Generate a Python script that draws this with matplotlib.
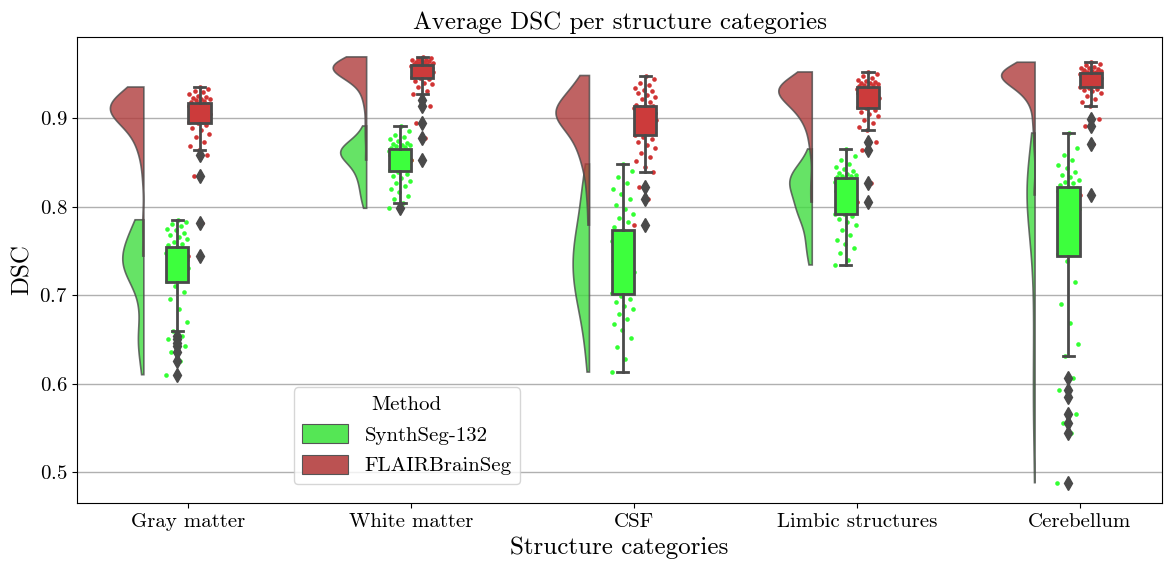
import numpy as np
import matplotlib
matplotlib.use("Agg")
import matplotlib.pyplot as plt
from matplotlib.patches import Patch

plt.rcParams['font.family'] = 'serif'
plt.rcParams['font.serif'] = ['cmr10', 'DejaVu Serif']
plt.rcParams['mathtext.fontset'] = 'cm'
plt.rcParams['axes.formatter.use_mathtext'] = True

categories = ['Gray matter', 'White matter', 'CSF', 'Limbic structures', 'Cerebellum']
methods = ['SynthSeg-132', 'FLAIRBrainSeg']

synthseg_gray = [0.610, 0.625, 0.636, 0.642, 0.646, 0.650, 0.654, 0.659, 0.670, 0.684, 0.695, 0.703, 0.710,
                 0.716, 0.718, 0.720, 0.722, 0.724, 0.726, 0.728, 0.729, 0.730, 0.731, 0.732, 0.733, 0.734,
                 0.736, 0.737, 0.738, 0.739, 0.740, 0.742, 0.744, 0.745, 0.747, 0.748, 0.750, 0.752, 0.754,
                 0.756, 0.758, 0.760, 0.763, 0.766, 0.768, 0.770, 0.773, 0.775, 0.778, 0.780, 0.783, 0.785]
flair_gray = [0.744, 0.781, 0.835, 0.858, 0.864, 0.868, 0.873, 0.878, 0.882, 0.886, 0.889, 0.892, 0.894,
              0.895, 0.896, 0.898, 0.899, 0.900, 0.901, 0.902, 0.903, 0.904, 0.905, 0.906, 0.907, 0.908,
              0.909, 0.910, 0.910, 0.911, 0.912, 0.912, 0.913, 0.913, 0.914, 0.914, 0.915, 0.916, 0.917,
              0.918, 0.919, 0.920, 0.921, 0.922, 0.923, 0.924, 0.925, 0.927, 0.929, 0.931, 0.933, 0.935]
synthseg_white = [0.798, 0.804, 0.808, 0.812, 0.816, 0.820, 0.823, 0.826, 0.829, 0.832, 0.835, 0.837, 0.839,
                  0.841, 0.843, 0.845, 0.847, 0.848, 0.850, 0.851, 0.852, 0.853, 0.854, 0.855, 0.856, 0.857,
                  0.858, 0.859, 0.859, 0.860, 0.860, 0.861, 0.862, 0.862, 0.863, 0.863, 0.864, 0.864, 0.865,
                  0.866, 0.867, 0.868, 0.869, 0.870, 0.871, 0.872, 0.874, 0.876, 0.878, 0.881, 0.885, 0.891]
flair_white = [0.8525, 0.877, 0.894, 0.913, 0.920, 0.927, 0.931, 0.935, 0.938, 0.940, 0.942, 0.944, 0.945,
               0.946, 0.947, 0.948, 0.949, 0.950, 0.950, 0.951, 0.952, 0.952, 0.953, 0.953, 0.954, 0.954,
               0.955, 0.955, 0.956, 0.956, 0.957, 0.957, 0.958, 0.958, 0.959, 0.959, 0.960, 0.960, 0.960,
               0.961, 0.961, 0.962, 0.962, 0.963, 0.963, 0.964, 0.965, 0.965, 0.966, 0.967, 0.968, 0.969]
synthseg_csf = [0.613, 0.628, 0.641, 0.652, 0.660, 0.667, 0.673, 0.679, 0.684, 0.688, 0.692, 0.696, 0.699,
                0.702, 0.705, 0.708, 0.711, 0.714, 0.717, 0.720, 0.723, 0.726, 0.729, 0.731, 0.733, 0.735,
                0.738, 0.741, 0.744, 0.747, 0.750, 0.753, 0.756, 0.758, 0.761, 0.764, 0.767, 0.770, 0.773,
                0.777, 0.782, 0.787, 0.792, 0.797, 0.802, 0.808, 0.814, 0.820, 0.826, 0.833, 0.840, 0.848]
flair_csf = [0.779, 0.808, 0.822, 0.839, 0.845, 0.851, 0.856, 0.861, 0.866, 0.870, 0.873, 0.876, 0.879,
             0.881, 0.884, 0.887, 0.889, 0.891, 0.893, 0.895, 0.896, 0.898, 0.899, 0.900, 0.901, 0.902,
             0.903, 0.904, 0.905, 0.906, 0.907, 0.908, 0.909, 0.910, 0.911, 0.911, 0.912, 0.913, 0.913,
             0.915, 0.918, 0.921, 0.924, 0.926, 0.928, 0.930, 0.932, 0.934, 0.937, 0.940, 0.944, 0.948]
synthseg_limbic = [0.734, 0.740, 0.748, 0.753, 0.758, 0.762, 0.768, 0.774, 0.779, 0.783, 0.786, 0.789, 0.791,
                   0.792, 0.794, 0.795, 0.797, 0.799, 0.801, 0.803, 0.805, 0.807, 0.809, 0.811, 0.813, 0.815,
                   0.817, 0.819, 0.821, 0.822, 0.824, 0.825, 0.826, 0.827, 0.828, 0.829, 0.830, 0.831, 0.832,
                   0.833, 0.834, 0.835, 0.836, 0.837, 0.838, 0.840, 0.842, 0.845, 0.848, 0.852, 0.857, 0.865]
flair_limbic = [0.805, 0.827, 0.864, 0.8725, 0.886, 0.890, 0.894, 0.898, 0.902, 0.905, 0.907, 0.909, 0.911,
                0.912, 0.914, 0.915, 0.917, 0.918, 0.920, 0.921, 0.922, 0.923, 0.924, 0.925, 0.926, 0.927,
                0.928, 0.929, 0.929, 0.930, 0.931, 0.931, 0.932, 0.932, 0.933, 0.933, 0.934, 0.934, 0.935,
                0.936, 0.937, 0.937, 0.938, 0.939, 0.940, 0.941, 0.942, 0.943, 0.945, 0.947, 0.950, 0.952]
synthseg_cereb = [0.488, 0.544, 0.555, 0.566, 0.585, 0.593, 0.606, 0.631, 0.645, 0.668, 0.690, 0.715, 0.738,
                  0.746, 0.752, 0.760, 0.768, 0.776, 0.782, 0.788, 0.793, 0.797, 0.800, 0.803, 0.806, 0.808,
                  0.810, 0.811, 0.812, 0.813, 0.814, 0.815, 0.816, 0.817, 0.818, 0.819, 0.820, 0.821, 0.822,
                  0.824, 0.826, 0.828, 0.830, 0.833, 0.836, 0.839, 0.843, 0.847, 0.852, 0.858, 0.866, 0.883]
flair_cereb = [0.813, 0.8703, 0.891, 0.8985, 0.914, 0.918, 0.922, 0.925, 0.928, 0.930, 0.932, 0.933, 0.934,
               0.935, 0.937, 0.938, 0.940, 0.941, 0.942, 0.943, 0.944, 0.945, 0.945, 0.946, 0.946, 0.947,
               0.947, 0.948, 0.948, 0.948, 0.949, 0.949, 0.949, 0.950, 0.950, 0.950, 0.950, 0.951, 0.951,
               0.951, 0.952, 0.952, 0.953, 0.953, 0.954, 0.955, 0.956, 0.957, 0.958, 0.960, 0.961, 0.963]

synthseg = [synthseg_gray, synthseg_white, synthseg_csf, synthseg_limbic, synthseg_cereb]
flair = [flair_gray, flair_white, flair_csf, flair_limbic, flair_cereb]

violin_colors = ['#40dd40', '#b03c3c']
box_colors = ['#3dff3d', '#cc3b3b']
point_colors = ['#33ff33', '#d03434']
legend_colors = ['#55e655', '#bb5252']
dark = '#4a4a4a'


def kde(vals, grid):
    vals = np.asarray(vals)
    bw = vals.std(ddof=1) * len(vals) ** (-1 / 5)
    z = (grid[:, None] - vals[None, :]) / bw
    return np.exp(-0.5 * z ** 2).sum(axis=1) / (len(vals) * bw * np.sqrt(2 * np.pi))


fig = plt.figure(figsize=(11.72, 5.72), dpi=100)
ax = fig.add_axes([0.0657, 0.1206, 0.9258, 0.8147])
ax.set_axisbelow(True)
ax.yaxis.grid(True, color='#b0b0b0', linewidth=1)

# half violins, scaled within each category
for i in range(len(categories)):
    groups = [synthseg[i], flair[i]]
    grids = [np.linspace(min(g), max(g), 200) for g in groups]
    dens = [kde(g, gr) for g, gr in zip(groups, grids)]
    peak = max(d.max() for d in dens)
    edge = i - 0.2
    for j in range(2):
        w = 0.15 * dens[j] / peak
        xs = np.concatenate([edge - w, [edge, edge]])
        ys = np.concatenate([grids[j], [grids[j][-1], grids[j][0]]])
        ax.fill(xs, ys, facecolor=violin_colors[j], alpha=0.8, edgecolor=dark,
                linewidth=1.2, zorder=2)

# strip points, deterministic jitter
for i in range(len(categories)):
    for j, groups in enumerate([synthseg, flair]):
        vals = np.asarray(groups[i])
        center = i - 0.05 + 0.1 * j
        jit = ((np.arange(len(vals)) * 0.618034) % 1.0 - 0.5) * 0.1
        ax.scatter(center + jit, vals, s=11, color=point_colors[j], linewidths=0, zorder=3)

# boxes
for j, groups in enumerate([synthseg, flair]):
    pos = np.arange(len(categories)) - 0.05 + 0.1 * j
    ax.boxplot(groups, positions=pos, widths=0.1, patch_artist=True, manage_ticks=False,
               whis=1.5, capwidths=0.05, zorder=4,
               boxprops=dict(facecolor=box_colors[j], edgecolor=dark, linewidth=2),
               whiskerprops=dict(color=dark, linewidth=2),
               capprops=dict(color=dark, linewidth=2),
               medianprops=dict(linewidth=0),
               flierprops=dict(marker='d', markerfacecolor=dark, markeredgecolor=dark,
                               markersize=7))

ax.set_xlim(-0.5, 4.37)
ax.set_ylim(0.465, 0.9915)
ax.set_xticks(range(len(categories)))
ax.set_xticklabels(categories)
ax.set_yticks([0.5, 0.6, 0.7, 0.8, 0.9])
ax.tick_params(labelsize=15)
ax.set_xlabel('Structure categories', fontsize=18)
ax.set_ylabel('DSC', fontsize=18)
ax.set_title('Average DSC per structure categories', fontsize=18)

handles = [Patch(facecolor=c, edgecolor='#555555', linewidth=0.8) for c in legend_colors]
leg = ax.legend(handles, methods, title='Method', loc='lower left',
                bbox_to_anchor=(0.19, 0.019), fontsize=15, title_fontsize=15,
                handlelength=2.2, handleheight=1.0)

fig.savefig('out.png', dpi=100)
